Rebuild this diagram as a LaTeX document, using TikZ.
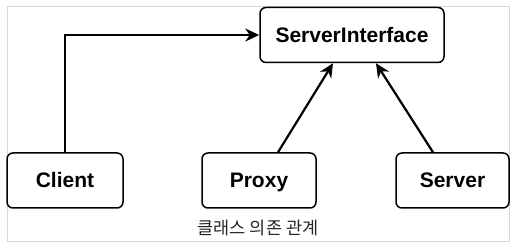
\documentclass[tikz,border=0pt]{standalone}
\usepackage{fontspec}
\setmainfont{Liberation Sans}
\newfontfamily\kofont{Noto Sans CJK KR}
\usepackage{tikz}
\usetikzlibrary{arrows.meta,positioning,calc}
\definecolor{framegray}{RGB}{215,215,215}

\begin{document}
\begin{tikzpicture}[
  x=1pt, y=1pt,
  box/.style={
    draw, rounded corners=6pt, line width=1.5pt,
    minimum height=55pt, inner sep=0pt,
    text height=16pt, text depth=1pt,
    font=\fontsize{21}{24}\selectfont\bfseries
  },
  arrow/.style={-{Stealth[length=14pt,width=13pt]},line width=2.2pt},
  note/.style={font=\kofont\fontsize{17.5}{20}\selectfont,text=black!85}
]
\useasboundingbox (0,0) rectangle (522,249);
\draw[framegray,line width=1pt] (7,8) rectangle (509,242);

\node[box,minimum width=184pt] (si) at (352,214) {ServerInterface};
\node[box,minimum width=116pt] (client) at (65,68.5) {Client};
\node[box,minimum width=114pt] (proxy) at (259,68.5) {Proxy};
\node[box,minimum width=113pt] (server) at (452.5,68.5) {Server};

\node[note] (caption) at (258,21) {클래스 의존 관계};

\draw[arrow] (client.north) |- (si.west);
\draw[arrow] ([xshift=19pt]proxy.north) -- ([xshift=-19pt]si.south);
\draw[arrow] ([xshift=-19.5pt]server.north) -- ([xshift=24pt]si.south);
\end{tikzpicture}
\end{document}
